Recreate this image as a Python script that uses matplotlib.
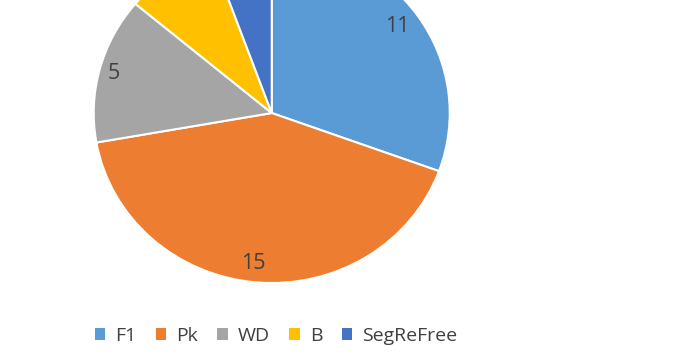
import matplotlib.pyplot as plt
from matplotlib.patches import Patch

plt.rcParams['font.family'] = ['Open Sans', 'DejaVu Sans']

# slice data (clockwise from 12 o'clock)
labels = ["F1", "Pk", "WD", "B", "SegReFree"]
counts = [11, 15, 5, 3, 2]
colors = ["#5B9BD5", "#ED7D31", "#A5A5A5", "#FFC000", "#4472C4"]
txt_color = "#404040"

fig = plt.figure(figsize=(6.9, 3.59), dpi=100)
# pie is a bit wider than tall in the reference and runs off the top
ax = fig.add_axes([0.1358, 0.2117, 0.516, 0.947])

wedges, texts = ax.pie(counts, colors=colors, startangle=90, counterclock=False,
                       labels=[str(c) for c in counts], labeldistance=0.89,
                       wedgeprops=dict(edgecolor="white", linewidth=1.5),
                       textprops=dict(color=txt_color, fontsize=15.5, ha="center", va="center"))
ax.set_aspect("auto")
ax.set_xlim(-1, 1)
ax.set_ylim(-1, 1)
ax.axis("off")

# the small slices' labels sit above the cropped top edge, hide them
for t in texts:
    x, y = t.get_position()
    if y > 0.5 and x < 0:
        t.set_visible(False)
    else:
        t.set_position((x - 0.025, y))

handles = [Patch(facecolor=c, edgecolor="none") for c in colors]
fig.legend(handles, labels, loc="center", bbox_to_anchor=(276 / 690, 1 - 336 / 359),
           ncol=5, frameon=False, fontsize=14, labelcolor=txt_color,
           handlelength=0.55, handleheight=0.55, handletextpad=0.5, columnspacing=1.0)

fig.savefig("out.png", dpi=100)
